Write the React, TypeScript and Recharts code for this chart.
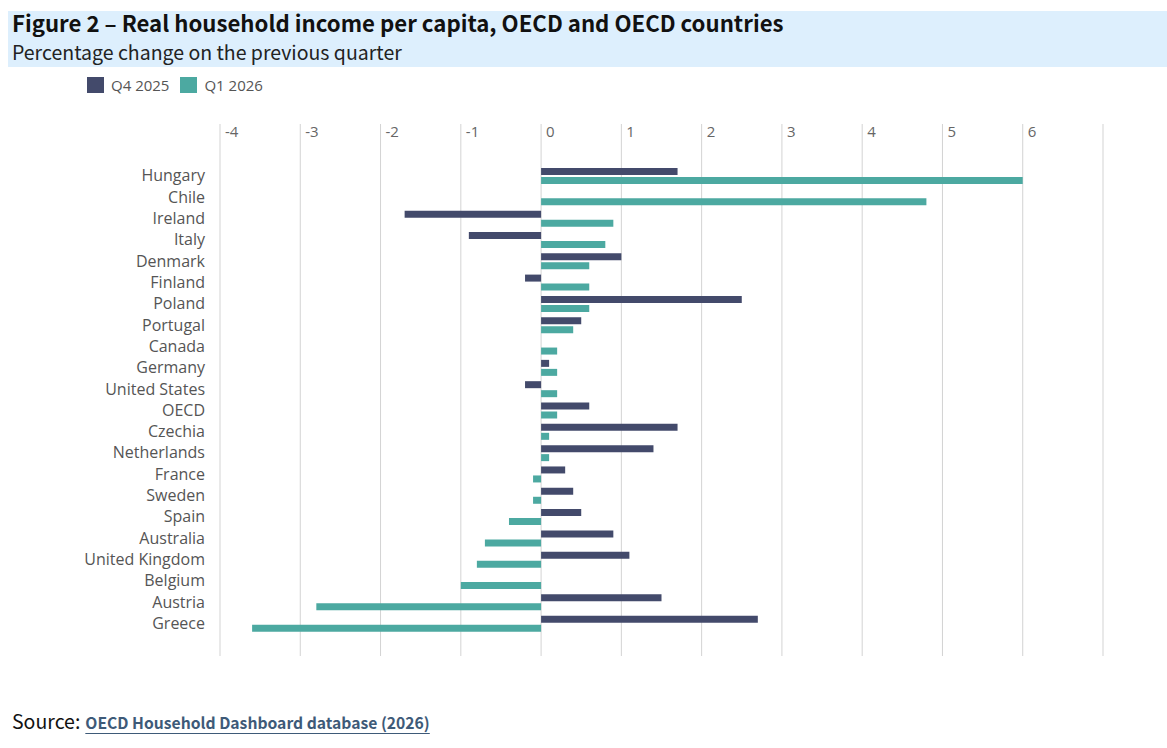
import React from "react";
import { BarChart, Bar, XAxis, YAxis, CartesianGrid } from "recharts";

const countries = [
  "Hungary", "Chile", "Ireland", "Italy", "Denmark", "Finland", "Poland", "Portugal",
  "Canada", "Germany", "United States", "OECD", "Czechia", "Netherlands", "France",
  "Sweden", "Spain", "Australia", "United Kingdom", "Belgium", "Austria", "Greece",
];
const q4_2025: (number | null)[] = [
  1.7, null, -1.7, -0.9, 1.0, -0.2, 2.5, 0.5,
  null, 0.1, -0.2, 0.6, 1.7, 1.4, 0.3,
  0.4, 0.5, 0.9, 1.1, null, 1.5, 2.7,
];
const q1_2026: (number | null)[] = [
  6.0, 4.8, 0.9, 0.8, 0.6, 0.6, 0.6, 0.4,
  0.2, 0.2, 0.2, 0.2, 0.1, 0.1, -0.1,
  -0.1, -0.4, -0.7, -0.8, -1.0, -2.8, -3.6,
];
const xTicks = [-4, -3, -2, -1, 0, 1, 2, 3, 4, 5, 6, 7];
const seriesNames = ["Q4 2025", "Q1 2026"];
const colors = ["#434a6b", "#4ca9a1"];

const data = countries.map((name, i) => ({ name, q4: q4_2025[i], q1: q1_2026[i] }));

const TitleFont = "'Noto Sans CJK JP', 'Noto Sans', sans-serif";
const ChartFont = "'Open Sans', sans-serif";

const XTick = (props: any) => {
  const { x, y, payload } = props;
  if (payload.value === 7) return null;
  return (
    <text x={x + 5} y={y + 13} fill="#666" fontSize={15} fontFamily={ChartFont} textAnchor="start">
      {payload.value}
    </text>
  );
};

export default function App() {
  return (
    <div style={{ position: "absolute", left: 0, top: 0, width: 1167, height: 748, background: "#fff", overflow: "hidden" }}>
      <div style={{ position: "absolute", left: 8, top: 11, width: 1159, height: 56, background: "#ddeffd" }} />
      <div style={{ position: "absolute", left: 12, top: 8, fontFamily: TitleFont, fontWeight: 700, fontSize: 22.2, lineHeight: "28px", color: "#111", whiteSpace: "nowrap" }}>
        Figure 2 – Real household income per capita, OECD and OECD countries
      </div>
      <div style={{ position: "absolute", left: 12, top: 38, fontFamily: TitleFont, fontSize: 19.5, lineHeight: "28px", color: "#222", whiteSpace: "nowrap" }}>
        Percentage change on the previous quarter
      </div>
      <div style={{ position: "absolute", left: 87, top: 77, display: "flex", alignItems: "center", fontFamily: ChartFont, fontSize: 15, color: "#555" }}>
        {seriesNames.map((s, i) => (
          <div key={s} style={{ display: "flex", alignItems: "center", marginRight: 11 }}>
            <div style={{ width: 17, height: 16, background: colors[i], marginRight: 7 }} />
            <span style={{ lineHeight: "16px" }}>{s}</span>
          </div>
        ))}
      </div>
      <div style={{ position: "absolute", left: 0, top: 0 }}>
        <BarChart
          width={1167}
          height={748}
          data={data}
          layout="vertical"
          margin={{ top: 123, right: 64, bottom: 92, left: 0 }}
          barSize={7}
          barGap={2}
        >
          <CartesianGrid horizontal={false} stroke="#d3d3d3" />
          <XAxis
            type="number"
            orientation="top"
            domain={[-4, 7]}
            ticks={xTicks}
            height={1}
            axisLine={false}
            tickLine={false}
            tickSize={0}
            tickMargin={0}
            tick={<XTick />}
            interval={0}
          />
          <YAxis
            type="category"
            dataKey="name"
            width={220}
            axisLine={false}
            tickLine={false}
            tickSize={0}
            tickMargin={15}
            interval={0}
            padding={{ top: 41, bottom: 22 }}
            tick={{ fill: "#555", fontSize: 16, fontFamily: ChartFont }}
          />
          <Bar dataKey="q4" name={seriesNames[0]} fill={colors[0]} isAnimationActive={false} />
          <Bar dataKey="q1" name={seriesNames[1]} fill={colors[1]} isAnimationActive={false} />
        </BarChart>
      </div>
      <div style={{ position: "absolute", left: 12, top: 706, whiteSpace: "nowrap", display: "flex", alignItems: "baseline" }}>
        <span style={{ fontFamily: TitleFont, fontSize: 19.5, color: "#111", marginRight: 5 }}>Source:</span>
        <span style={{ fontFamily: TitleFont, fontSize: 15.7, fontWeight: 700, color: "#3e5a78", textDecoration: "underline", textUnderlineOffset: 4 }}>
          OECD Household Dashboard database (2026)
        </span>
      </div>
    </div>
  );
}
